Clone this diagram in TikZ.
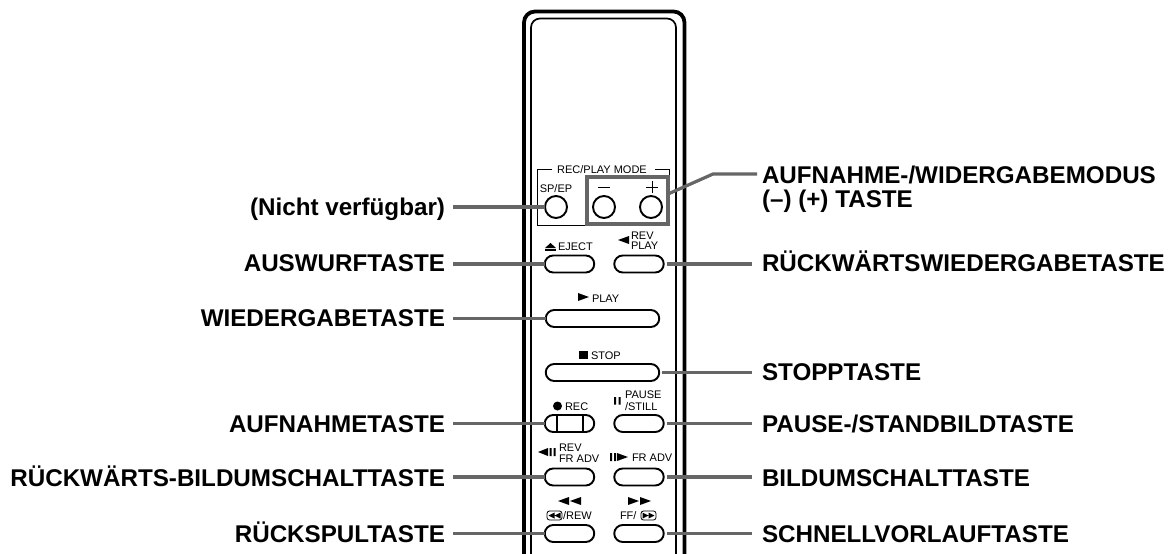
\documentclass[tikz,border=0pt]{standalone}
\usepackage{fontspec}
\setmainfont{Liberation Sans}
\usetikzlibrary{shapes.misc}
\begin{document}
\begin{tikzpicture}[x=1pt,y=-1pt,
  lab/.style={font=\bfseries\fontsize{24.2}{24}\selectfont,inner sep=0pt,outer sep=0pt,text height=17.5pt,text depth=0pt,align=left},
  leftlab/.style={lab,anchor=east},
  rightlab/.style={lab,anchor=west},
  small/.style={font=\fontsize{11}{11}\selectfont,inner sep=0pt,outer sep=0pt,anchor=west,text height=8pt,text depth=0pt},
  btn/.style={draw=black,line width=1.9pt,rounded rectangle,inner sep=0pt,outer sep=0pt,minimum height=17pt},
  rnd/.style={draw=black,line width=1.9pt,circle,inner sep=0pt,outer sep=0pt,minimum size=22pt},
  conn/.style={draw=black!60,line width=3.2pt},
  sym/.style={fill=black,draw=none}]
\useasboundingbox (0,0) rectangle (1170,554);
% remote body
\draw[line width=3.8pt,rounded corners=11pt] (524,554) -- (524,11.5) -- (684.5,11.5) -- (684.5,554);
\draw[line width=1.7pt,rounded corners=9pt] (531,554) -- (531,18.5) -- (676,18.5) -- (676,554);
% REC/PLAY MODE frame
\draw[line width=1pt] (552,169) -- (537.5,169) -- (537.5,225.5) -- (587,225.5);
\draw[line width=1pt] (655,169) -- (669,169) -- (669,177);
\node[small,anchor=center] (mode) at (602,169.5) {REC/PLAY MODE};
\node[small,anchor=center] (spep) at (556,188) {SP/EP};
\draw[line width=.7pt] (598,187) -- (610,187);
\draw[line width=.7pt] (646,187) -- (658,187) (652,181) -- (652,193);
% buttons
\node[rnd] (bsp) at (556,207) {};
\node[rnd] (bminus) at (604,207) {};
\node[rnd] (bplus) at (651,207) {};
\node[draw=black!60,line width=3.4pt,inner sep=0pt,outer sep=0pt,minimum width=81pt,minimum height=47pt] (modebox) at (627.5,200.5) {};
\node[btn,minimum width=49.5pt] (beject) at (569.5,264) {};
\node[btn,minimum width=49.5pt] (brev) at (639,264) {};
\node[btn,minimum width=113.5pt] (bplay) at (602.5,318.5) {};
\node[btn,minimum width=113.5pt] (bstop) at (602.5,372.5) {};
\node[btn,minimum width=49.5pt] (brec) at (569.5,423.5) {};
\node[btn,minimum width=49.5pt] (bpause) at (639,423.5) {};
\node[btn,minimum width=49.5pt] (bfrev) at (569.5,477) {};
\node[btn,minimum width=49.5pt] (bfadv) at (639,477) {};
\node[btn,minimum width=49.5pt] (brew) at (569.5,533.5) {};
\node[btn,minimum width=49.5pt] (bff) at (639,533.5) {};
\draw[line width=1.4pt] (557,415) -- (557,432) (583,415) -- (583,432);
% small texts and symbols
\fill[sym] (545,248) -- (550.5,243) -- (556,248) -- cycle;
\fill[sym] (545,249) rectangle (556,250.5);
\node[small] (teject) at (558,246) {EJECT};
\fill[sym] (618,240) -- (629,236) -- (629,244) -- cycle;
\node[small] (trev) at (631,235) {REV};
\node[small] (tplay2) at (631,245) {PLAY};
\fill[sym] (578,293) -- (589,297) -- (578,301) -- cycle;
\node[small] (tplay) at (592,298) {PLAY};
\fill[sym] (579,351) rectangle (588,359);
\node[small] (tstop) at (591,355) {STOP};
\fill[sym] (557.5,406) circle (4.5);
\node[small] (trec) at (565,406) {REC};
\fill[sym] (614,397) rectangle (616,404.5) (618.5,397) rectangle (620.5,404.5);
\node[small] (tpause) at (625,394) {PAUSE};
\node[small] (tstill) at (625,406) {/STILL};
\fill[sym] (538,452) -- (548,448) -- (548,456) -- cycle;
\fill[sym] (549.5,448) rectangle (551.5,456) (553.5,448) rectangle (555.5,456);
\node[small] (trevb) at (559,447) {REV};
\node[small] (tfra) at (559,458) {FR ADV};
\fill[sym] (610,453) rectangle (612,461) (614,453) rectangle (616,461);
\fill[sym] (617,453) -- (628,457) -- (617,461) -- cycle;
\node[small] (tfrb) at (632,457) {FR ADV};
\fill[sym] (558,501) -- (569,497) -- (569,505) -- cycle (570,501) -- (581,497) -- (581,505) -- cycle;
\fill[sym] (651,501) -- (640,497) -- (640,505) -- cycle (639,501) -- (628,497) -- (628,505) -- cycle;
\draw[line width=.8pt,rounded corners=2.5pt] (547,511) rectangle (562,520);
\fill[sym] (548.5,515.5) -- (554.5,512.5) -- (554.5,518.5) -- cycle (554.5,515.5) -- (560.5,512.5) -- (560.5,518.5) -- cycle;
\node[small] (trew) at (563,515) {/REW};
\node[small] (tff) at (620,515) {FF/};
\draw[line width=.8pt,rounded corners=2.5pt] (641,511) rectangle (656,520);
\fill[sym] (654.5,515.5) -- (648.5,512.5) -- (648.5,518.5) -- cycle (648.5,515.5) -- (642.5,512.5) -- (642.5,518.5) -- cycle;
% left labels
\node[leftlab] (l1) at (445,207) {(Nicht verfügbar)};
\node[leftlab] (l2) at (445,263) {AUSWURFTASTE};
\node[leftlab] (l3) at (445,318) {WIEDERGABETASTE};
\node[leftlab] (l4) at (445,424) {AUFNAHMETASTE};
\node[leftlab] (l5) at (445,478) {RÜCKWÄRTS-BILDUMSCHALTTASTE};
\node[leftlab] (l6) at (445,534) {RÜCKSPULTASTE};
% right labels
\node[rightlab] (r1) at (762,199) {AUFNAHME-/WIDERGABEMODUS\\(–) (+) TASTE};
\node[rightlab] (r2) at (762,263) {RÜCKWÄRTSWIEDERGABETASTE};
\node[rightlab] (r3) at (762,372) {STOPPTASTE};
\node[rightlab] (r4) at (762,424) {PAUSE-/STANDBILDTASTE};
\node[rightlab] (r5) at (762,478) {BILDUMSCHALTTASTE};
\node[rightlab] (r6) at (762,534) {SCHNELLVORLAUFTASTE};
% connectors
\coordinate (kn) at (713,174);
\coordinate (ke) at (757,174);
\draw[conn,line join=miter] ([yshift=6.5pt]modebox.east) -- (kn) -- (ke);
\draw[conn] ([xshift=8pt]l1.east) -- (bsp.west);
\draw[conn] ([xshift=8pt]l2.east |- beject.west) -- (beject.west);
\draw[conn] ([xshift=8pt]l3.east |- bplay.west) -- (bplay.west);
\draw[conn] ([xshift=8pt]l4.east |- brec.west) -- (brec.west);
\draw[conn] ([xshift=8pt]l5.east |- bfrev.west) -- (bfrev.west);
\draw[conn] ([xshift=8pt]l6.east |- brew.west) -- (brew.west);
\draw[conn] ([xshift=3pt]brev.east) -- ([xshift=-10pt]r2.west |- brev.east);
\draw[conn] ([xshift=3pt]bstop.east) -- ([xshift=-10pt]r3.west |- bstop.east);
\draw[conn] ([xshift=3pt]bpause.east) -- ([xshift=-10pt]r4.west |- bpause.east);
\draw[conn] ([xshift=3pt]bfadv.east) -- ([xshift=-10pt]r5.west |- bfadv.east);
\draw[conn] ([xshift=3pt]bff.east) -- ([xshift=-10pt]r6.west |- bff.east);
\end{tikzpicture}
\end{document}
